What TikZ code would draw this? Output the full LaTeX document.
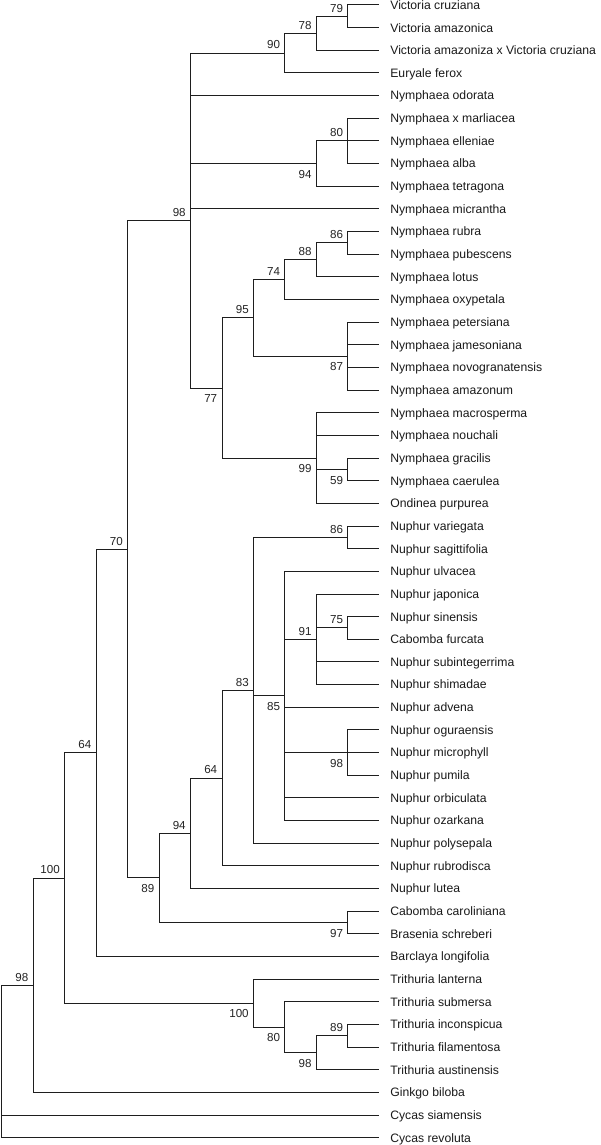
\documentclass[tikz,border=0pt]{standalone}
\usepackage{fontspec}
\newfontfamily\treefont{Liberation Sans}

\tikzset{every picture/.style={line width=0.75pt}}
\tikzset{
	branch/.style={draw={rgb, 255:red, 30; green, 30; blue, 30 }},
	taxon/.style={anchor=west, inner xsep=7.9pt, inner ysep=0pt, text height=6.55pt, text depth=0pt,
		font=\treefont\fontsize{9.15}{11}\selectfont, text={rgb, 255:red, 25; green, 25; blue, 25 }},
	bootabove/.style={anchor=south east, inner sep=0pt, font=\treefont\fontsize{8.7}{10}\selectfont,
		text={rgb, 255:red, 35; green, 35; blue, 35 }},
	bootbelow/.style={bootabove, anchor=north east}}

\begin{document}
\begin{tikzpicture}[x=0.75pt,y=0.75pt,yscale=-1,xscale=1]
	\useasboundingbox (0,0) rectangle (600,1145);

	% Taxa
	\node [taxon] (vcru) at (379.3,5.00) {Victoria cruziana};
	\node [taxon] (vama) at (379.3,27.65) {Victoria amazonica};
	\node [taxon] (vhyb) at (379.3,50.31) {Victoria amazoniza x Victoria cruziana};
	\node [taxon] (efer) at (379.3,72.96) {Euryale ferox};
	\node [taxon] (nodo) at (379.3,95.62) {Nymphaea odorata};
	\node [taxon] (nmar) at (379.3,118.27) {Nymphaea x marliacea};
	\node [taxon] (nell) at (379.3,140.92) {Nymphaea elleniae};
	\node [taxon] (nalb) at (379.3,163.58) {Nymphaea alba};
	\node [taxon] (ntet) at (379.3,186.23) {Nymphaea tetragona};
	\node [taxon] (nmic) at (379.3,208.89) {Nymphaea micrantha};
	\node [taxon] (nrub) at (379.3,231.54) {Nymphaea rubra};
	\node [taxon] (npub) at (379.3,254.19) {Nymphaea pubescens};
	\node [taxon] (nlot) at (379.3,276.85) {Nymphaea lotus};
	\node [taxon] (noxy) at (379.3,299.50) {Nymphaea oxypetala};
	\node [taxon] (npet) at (379.3,322.16) {Nymphaea petersiana};
	\node [taxon] (njam) at (379.3,344.81) {Nymphaea jamesoniana};
	\node [taxon] (nnov) at (379.3,367.46) {Nymphaea novogranatensis};
	\node [taxon] (nama) at (379.3,390.12) {Nymphaea amazonum};
	\node [taxon] (nmac) at (379.3,412.77) {Nymphaea macrosperma};
	\node [taxon] (nnou) at (379.3,435.43) {Nymphaea nouchali};
	\node [taxon] (ngra) at (379.3,458.08) {Nymphaea gracilis};
	\node [taxon] (ncae) at (379.3,480.73) {Nymphaea caerulea};
	\node [taxon] (opur) at (379.3,503.39) {Ondinea purpurea};
	\node [taxon] (uvar) at (379.3,526.04) {Nuphur variegata};
	\node [taxon] (usag) at (379.3,548.70) {Nuphur sagittifolia};
	\node [taxon] (uulv) at (379.3,571.35) {Nuphur ulvacea};
	\node [taxon] (ujap) at (379.3,594.00) {Nuphur japonica};
	\node [taxon] (usin) at (379.3,616.66) {Nuphur sinensis};
	\node [taxon] (cfur) at (379.3,639.31) {Cabomba furcata};
	\node [taxon] (usub) at (379.3,661.97) {Nuphur subintegerrima};
	\node [taxon] (ushi) at (379.3,684.62) {Nuphur shimadae};
	\node [taxon] (uadv) at (379.3,707.27) {Nuphur advena};
	\node [taxon] (uogu) at (379.3,729.93) {Nuphur oguraensis};
	\node [taxon] (umic) at (379.3,752.58) {Nuphur microphyll};
	\node [taxon] (upum) at (379.3,775.24) {Nuphur pumila};
	\node [taxon] (uorb) at (379.3,797.89) {Nuphur orbiculata};
	\node [taxon] (uoza) at (379.3,820.54) {Nuphur ozarkana};
	\node [taxon] (upol) at (379.3,843.20) {Nuphur polysepala};
	\node [taxon] (urub) at (379.3,865.85) {Nuphur rubrodisca};
	\node [taxon] (ulut) at (379.3,888.51) {Nuphur lutea};
	\node [taxon] (ccar) at (379.3,911.16) {Cabomba caroliniana};
	\node [taxon] (bsch) at (379.3,933.81) {Brasenia schreberi};
	\node [taxon] (blon) at (379.3,956.47) {Barclaya longifolia};
	\node [taxon] (tlan) at (379.3,979.12) {Trithuria lanterna};
	\node [taxon] (tsub) at (379.3,1001.78) {Trithuria submersa};
	\node [taxon] (tinc) at (379.3,1024.43) {Trithuria inconspicua};
	\node [taxon] (tfil) at (379.3,1047.08) {Trithuria filamentosa};
	\node [taxon] (taus) at (379.3,1069.74) {Trithuria austinensis};
	\node [taxon] (gbil) at (379.3,1092.39) {Ginkgo biloba};
	\node [taxon] (csia) at (379.3,1115.05) {Cycas siamensis};
	\node [taxon] (crev) at (379.3,1137.70) {Cycas revoluta};

	% Internal nodes
	\coordinate (vicA) at (347.9,16.33);
	\coordinate (vicB) at (316.4,33.32);
	\coordinate (eury) at (284.9,53.14);
	\coordinate (marl) at (347.9,140.92);
	\coordinate (tetr) at (316.4,163.58);
	\coordinate (rubr) at (347.9,242.87);
	\coordinate (lotu) at (316.4,259.86);
	\coordinate (oxyp) at (284.9,279.68);
	\coordinate (pete) at (347.9,356.14);
	\coordinate (lotpet) at (253.5,317.91);
	\coordinate (grac) at (347.9,469.41);
	\coordinate (macr) at (316.4,458.08);
	\coordinate (nymB) at (222.0,388.00);
	\coordinate (nymA) at (190.5,220.57);
	\coordinate (varg) at (347.9,537.37);
	\coordinate (sine) at (347.9,627.99);
	\coordinate (japo) at (316.4,639.31);
	\coordinate (ogur) at (347.9,752.58);
	\coordinate (ulva) at (284.9,695.95);
	\coordinate (nupC) at (253.5,690.28);
	\coordinate (nupB) at (222.0,778.07);
	\coordinate (nupA) at (190.5,833.29);
	\coordinate (cabo) at (347.9,922.49);
	\coordinate (nupcab) at (159.1,877.89);
	\coordinate (corecl) at (127.6,549.23);
	\coordinate (barcl) at (96.1,752.85);
	\coordinate (triD) at (347.9,1035.76);
	\coordinate (triC) at (316.4,1052.75);
	\coordinate (triB) at (284.9,1027.26);
	\coordinate (triA) at (253.5,1003.19);
	\coordinate (angio) at (64.6,878.02);
	\coordinate (seedA) at (33.2,985.20);
	\coordinate (root) at (1.7,1061.45);

	% Branches
	\draw [branch] (vicA) |- (vcru.west) (vicA) |- (vama.west);
	\draw [branch] (vicB) |- (vicA) (vicB) |- (vhyb.west);
	\draw [branch] (eury) |- (vicB) (eury) |- (efer.west);
	\draw [branch] (marl) |- (nmar.west) (marl) |- (nell.west) (marl) |- (nalb.west);
	\draw [branch] (tetr) |- (marl) (tetr) |- (ntet.west);
	\draw [branch] (rubr) |- (nrub.west) (rubr) |- (npub.west);
	\draw [branch] (lotu) |- (rubr) (lotu) |- (nlot.west);
	\draw [branch] (oxyp) |- (lotu) (oxyp) |- (noxy.west);
	\draw [branch] (pete) |- (npet.west) (pete) |- (njam.west) (pete) |- (nnov.west) (pete) |- (nama.west);
	\draw [branch] (lotpet) |- (oxyp) (lotpet) |- (pete);
	\draw [branch] (grac) |- (ngra.west) (grac) |- (ncae.west);
	\draw [branch] (macr) |- (nmac.west) (macr) |- (nnou.west) (macr) |- (grac) (macr) |- (opur.west);
	\draw [branch] (nymB) |- (lotpet) (nymB) |- (macr);
	\draw [branch] (nymA) |- (eury) (nymA) |- (nodo.west) (nymA) |- (tetr) (nymA) |- (nmic.west) (nymA) |- (nymB);
	\draw [branch] (varg) |- (uvar.west) (varg) |- (usag.west);
	\draw [branch] (sine) |- (usin.west) (sine) |- (cfur.west);
	\draw [branch] (japo) |- (ujap.west) (japo) |- (sine) (japo) |- (usub.west) (japo) |- (ushi.west);
	\draw [branch] (ogur) |- (uogu.west) (ogur) |- (umic.west) (ogur) |- (upum.west);
	\draw [branch] (ulva) |- (uulv.west) (ulva) |- (japo) (ulva) |- (uadv.west) (ulva) |- (ogur) (ulva) |- (uorb.west) (ulva) |- (uoza.west);
	\draw [branch] (nupC) |- (varg) (nupC) |- (ulva) (nupC) |- (upol.west);
	\draw [branch] (nupB) |- (nupC) (nupB) |- (urub.west);
	\draw [branch] (nupA) |- (nupB) (nupA) |- (ulut.west);
	\draw [branch] (cabo) |- (ccar.west) (cabo) |- (bsch.west);
	\draw [branch] (nupcab) |- (nupA) (nupcab) |- (cabo);
	\draw [branch] (corecl) |- (nymA) (corecl) |- (nupcab);
	\draw [branch] (barcl) |- (corecl) (barcl) |- (blon.west);
	\draw [branch] (triD) |- (tinc.west) (triD) |- (tfil.west);
	\draw [branch] (triC) |- (triD) (triC) |- (taus.west);
	\draw [branch] (triB) |- (tsub.west) (triB) |- (triC);
	\draw [branch] (triA) |- (tlan.west) (triA) |- (triB);
	\draw [branch] (angio) |- (barcl) (angio) |- (triA);
	\draw [branch] (seedA) |- (angio) (seedA) |- (gbil.west);
	\draw [branch] (root) |- (seedA) (root) |- (csia.west) (root) |- (crev.west);

	% Bootstrap values
	\node [bootabove] (bvicA) at (343.6,12.8) {79};
	\node [bootabove] (bvicB) at (312.1,29.8) {78};
	\node [bootabove] (beury) at (280.6,49.6) {90};
	\node [bootabove] (bmarl) at (343.6,137.4) {80};
	\node [bootbelow] (btetr) at (312.1,169.6) {94};
	\node [bootabove] (bnymA) at (186.2,217.1) {98};
	\node [bootabove] (brubr) at (343.6,239.4) {86};
	\node [bootabove] (blotu) at (312.1,256.4) {88};
	\node [bootabove] (boxyp) at (280.6,276.2) {74};
	\node [bootabove] (blotpet) at (249.2,314.4) {95};
	\node [bootbelow] (bpete) at (343.6,362.1) {87};
	\node [bootbelow] (bnymB) at (217.7,394.0) {77};
	\node [bootbelow] (bmacr) at (312.1,464.1) {99};
	\node [bootbelow] (bgrac) at (343.6,475.4) {59};
	\node [bootabove] (bvarg) at (343.6,533.9) {86};
	\node [bootabove] (bcorecl) at (123.3,545.7) {70};
	\node [bootabove] (bsine) at (343.6,624.5) {75};
	\node [bootabove] (bjapo) at (312.1,635.8) {91};
	\node [bootabove] (bnupC) at (249.2,686.8) {83};
	\node [bootbelow] (bulva) at (280.6,702.0) {85};
	\node [bootabove] (bbarcl) at (91.8,749.4) {64};
	\node [bootbelow] (bogur) at (343.6,758.6) {98};
	\node [bootabove] (bnupB) at (217.7,774.6) {64};
	\node [bootabove] (bnupA) at (186.2,829.8) {94};
	\node [bootabove] (bangio) at (60.3,874.5) {100};
	\node [bootbelow] (bnupcab) at (154.8,883.9) {89};
	\node [bootbelow] (bcabo) at (343.6,928.5) {97};
	\node [bootabove] (bseedA) at (28.9,981.7) {98};
	\node [bootbelow] (btriA) at (249.2,1009.2) {100};
	\node [bootbelow] (btriB) at (280.6,1033.3) {80};
	\node [bootabove] (btriD) at (343.6,1032.3) {89};
	\node [bootbelow] (btriC) at (312.1,1058.8) {98};

\end{tikzpicture}
\end{document}
